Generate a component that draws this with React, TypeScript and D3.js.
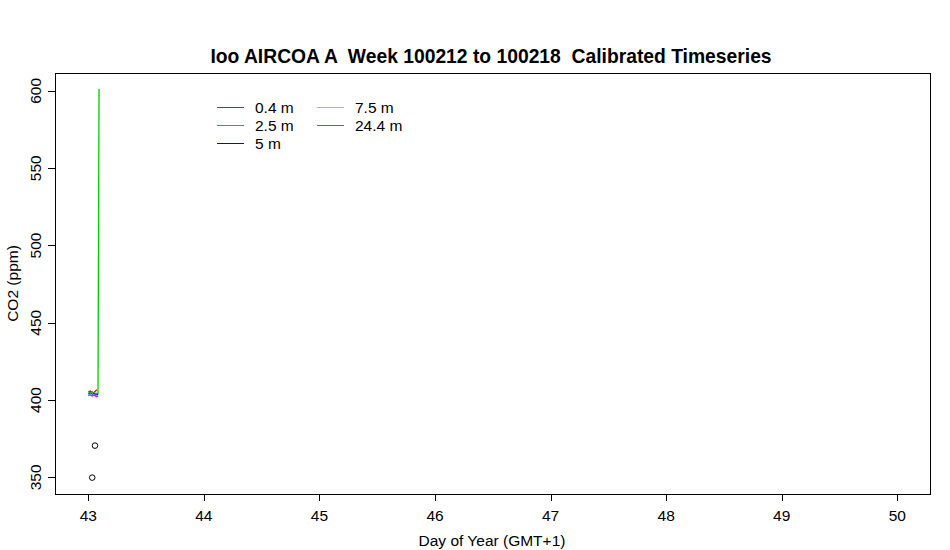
import React from "react";
import * as d3 from "d3";

const W = 950, H = 550;
const M = { left: 55, right: 930, top: 73, bottom: 494 };

const xTicks = [43, 44, 45, 46, 47, 48, 49, 50];
const yTicks = [350, 400, 450, 500, 550, 600];

const seriesNames = ["0.4 m", "2.5 m", "5 m", "7.5 m", "24.4 m"];
const seriesColors = ["#ff0000", "#00cd00", "#0000ff", "#00ffff", "#ff00ff"];

const t04 = [43.0, 43.017, 43.034, 43.05, 43.067, 43.075];
const v04 = [405.2, 405.8, 404.8, 405.0, 406.2, 406.6];
const t25 = [43.0, 43.017, 43.034, 43.05, 43.067, 43.084, 43.093];
const v25 = [405.6, 404.2, 405.4, 403.6, 404.4, 404.0, 601.3];
const t5 = [43.0, 43.017, 43.034, 43.05, 43.067, 43.084];
const v5 = [403.8, 404.4, 403.5, 404.0, 403.2, 403.6];
const t75 = [43.0, 43.017, 43.034, 43.05, 43.067, 43.087];
const v75 = [403.4, 403.9, 403.0, 403.5, 402.8, 402.3];
const t244 = [43.0, 43.017, 43.034, 43.05, 43.067, 43.085];
const v244 = [402.9, 403.3, 402.6, 403.2, 402.2, 402.5];

const refT = [43.034, 43.058];
const refV = [349.8, 370.5];

const seriesT = [t04, t25, t5, t75, t244];
const seriesV = [v04, v25, v5, v75, v244];

export default function App() {
  const x = d3.scaleLinear().domain([42.712, 50.283]).range([M.left, M.right]);
  const y = d3.scaleLinear().domain([339.2, 611.6]).range([M.bottom, M.top]);
  const line = d3
    .line<[number, number]>()
    .x((d) => x(d[0]))
    .y((d) => y(d[1]));
  const font = "'Liberation Sans', Arial, sans-serif";
  const fs = 15.5;
  const legendRows = [
    { i: 0, col: 0, row: 0 },
    { i: 1, col: 0, row: 1 },
    { i: 2, col: 0, row: 2 },
    { i: 3, col: 1, row: 0 },
    { i: 4, col: 1, row: 1 },
  ];
  return (
    <svg
      width={W}
      height={H}
      style={{ position: "absolute", left: 0, top: 0, background: "#fff" }}
      fontFamily={font}
    >
      <rect x={0} y={0} width={W} height={H} fill="#fff" />
      <text
        x={491}
        y={63}
        textAnchor="middle"
        fontSize={19.3}
        fontWeight="bold"
        style={{ whiteSpace: "pre" }}
      >
        {"Ioo AIRCOA A  Week 100212 to 100218  Calibrated Timeseries"}
      </text>
      {seriesT.map((ts, k) => (
        <path
          key={k}
          d={line(ts.map((t, j) => [t, seriesV[k][j]] as [number, number])) || ""}
          fill="none"
          stroke={seriesColors[k]}
          strokeWidth={1.3}
        />
      ))}
      {refT.map((t, j) => (
        <circle key={j} cx={x(t)} cy={y(refV[j])} r={2.8} fill="none" stroke="#000" strokeWidth={1} />
      ))}
      <rect
        x={M.left + 0.5}
        y={M.top + 0.5}
        width={M.right - M.left}
        height={M.bottom - M.top}
        fill="none"
        stroke="#000"
        strokeWidth={1}
        shapeRendering="crispEdges"
      />
      {xTicks.map((t) => (
        <g key={t}>
          <line
            x1={Math.round(x(t)) + 0.5}
            x2={Math.round(x(t)) + 0.5}
            y1={M.bottom}
            y2={M.bottom + 7}
            stroke="#000"
            shapeRendering="crispEdges"
          />
          <text x={x(t)} y={521} textAnchor="middle" fontSize={fs}>
            {t}
          </text>
        </g>
      ))}
      {yTicks.map((t) => (
        <g key={t}>
          <line
            x1={M.left - 7}
            x2={M.left}
            y1={Math.round(y(t)) + 0.5}
            y2={Math.round(y(t)) + 0.5}
            stroke="#000"
            shapeRendering="crispEdges"
          />
          <text
            transform={`translate(41,${y(t)}) rotate(-90)`}
            textAnchor="middle"
            fontSize={fs}
          >
            {t}
          </text>
        </g>
      ))}
      <text x={492} y={546} textAnchor="middle" fontSize={fs}>
        Day of Year (GMT+1)
      </text>
      <text
        transform={`translate(18,${(M.top + M.bottom) / 2}) rotate(-90)`}
        textAnchor="middle"
        fontSize={fs}
      >
        CO2 (ppm)
      </text>
      {legendRows.map(({ i, col, row }) => {
        const lx = 217 + col * 100;
        const ly = 107 + row * 18;
        return (
          <g key={i}>
            <line
              x1={lx}
              x2={lx + 27}
              y1={ly + 0.5}
              y2={ly + 0.5}
              stroke={seriesColors[i]}
              strokeWidth={1}
              shapeRendering="crispEdges"
            />
            <text x={lx + 38} y={ly + 6} fontSize={fs}>
              {seriesNames[i]}
            </text>
          </g>
        );
      })}
    </svg>
  );
}
